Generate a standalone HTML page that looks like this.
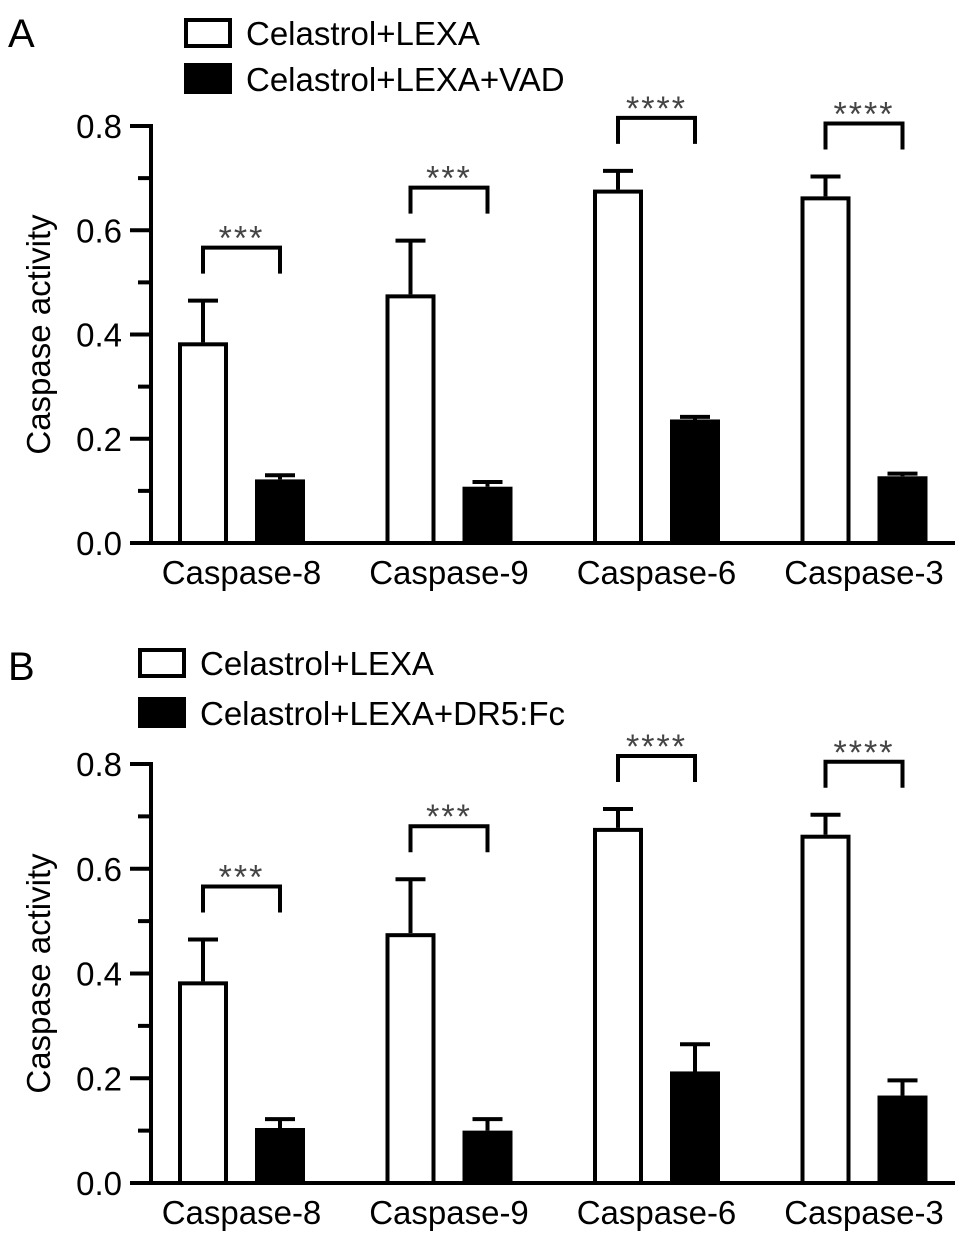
<!DOCTYPE html>
<html><head><meta charset="utf-8"><style>
html,body{margin:0;padding:0;background:#fff;}
svg{display:block;font-family:"Liberation Sans",Arial,sans-serif;}
</style></head><body>
<svg id="chart" width="969" height="1242" viewBox="0 0 969 1242"></svg>
<script>
const categories = ["Caspase-8","Caspase-9","Caspase-6","Caspase-3"];
const aWhite = [0.385,0.477,0.678,0.665];
const aWhiteErr = [0.080,0.103,0.036,0.038];
const aBlack = [0.122,0.108,0.237,0.128];
const aBlackErr = [0.008,0.009,0.005,0.005];
const bWhite = [0.385,0.477,0.678,0.665];
const bWhiteErr = [0.080,0.103,0.036,0.038];
const bBlack = [0.105,0.100,0.213,0.167];
const bBlackErr = [0.017,0.022,0.052,0.029];
const sigLabels = ["***","***","****","****"];
const yTicks = [0,0.2,0.4,0.6,0.8];
const yTickLabels = ["0.0","0.2","0.4","0.6","0.8"];
const minorTicks = [0.1,0.3,0.5,0.7];

const NS="http://www.w3.org/2000/svg";
const svg=document.getElementById('chart');
function mk(tag,attrs,parent,text){const e=document.createElementNS(NS,tag);for(const k in attrs)e.setAttribute(k,attrs[k]);if(text!==undefined)e.textContent=text;(parent||svg).appendChild(e);return e;}

function panel(cfg){
  const g=mk('g',{});
  
  
  const y=v=>cfg.y0-(v/0.8)*(cfg.y0-cfg.y8);
  const xAxisL=151,xAxisR=955;
  const pl=mk('text',{x:8,y:cfg.letterY,'font-size':40},g,cfg.letter);
  
  
  const lw=mk('rect',{x:cfg.legX+2,y:cfg.legY1,width:44,height:26,fill:'#fff',stroke:'#000','stroke-width':4},g);
  
  
  const lt1=mk('text',{x:cfg.legX+62,y:cfg.legY1+25,'font-size':33},g,cfg.leg1);
  
  
  const lb=mk('rect',{x:cfg.legX,y:cfg.legY2,width:48,height:31,fill:'#000'},g);
  
  
  const lt2=mk('text',{x:cfg.legX+62,y:cfg.legY2+28,'font-size':33},g,cfg.leg2);
  
  
  const ya=mk('line',{x1:xAxisL,y1:y(0.8)-2,x2:xAxisL,y2:y(0)+2,stroke:'#000','stroke-width':4},g);
  
  
  yTicks.forEach((t,i)=>{
    const tk=mk('line',{x1:130,y1:y(t),x2:xAxisL,y2:y(t),stroke:'#000','stroke-width':4},g);
    
    
    const tl=mk('text',{x:122,y:y(t)+12,'font-size':33,'text-anchor':'end'},g,yTickLabels[i]);
    
    
  });
  minorTicks.forEach(t=>{
    const tk=mk('line',{x1:138,y1:y(t),x2:xAxisL,y2:y(t),stroke:'#000','stroke-width':4},g);
    
    
  });
  const cy=(cfg.y0+cfg.y8)/2;
  const yt=mk('text',{x:0,y:0,'font-size':33,'text-anchor':'middle',transform:`translate(50,${cy}) rotate(-90)`},g,'Caspase activity');
  
  
  categories.forEach((c,i)=>{
    const gx=178+i*207.5;
    const wx=gx, bx=gx+77, bw=50;
    const wc=wx+bw/2, bc=bx+bw/2;
    const wt=y(cfg.white[i]+cfg.whiteErr[i]);
    const e1=mk('path',{d:`M${wc},${y(cfg.white[i])} V${wt} M${wc-15},${wt} H${wc+15}`,stroke:'#000','stroke-width':4,fill:'none'},g);
    
    
    const r1=mk('rect',{x:wx+2,y:y(cfg.white[i])+2,width:bw-4,height:y(0)-y(cfg.white[i])-2,fill:'#fff',stroke:'#000','stroke-width':4},g);
    
    
    const bt=y(cfg.black[i]+cfg.blackErr[i]);
    const e2=mk('path',{d:`M${bc},${y(cfg.black[i])} V${bt} M${bc-15},${bt} H${bc+15}`,stroke:'#000','stroke-width':4,fill:'none'},g);
    
    
    const r2=mk('rect',{x:bx,y:y(cfg.black[i]),width:bw,height:y(0)-y(cfg.black[i]),fill:'#000'},g);
    
    
    const top=Math.min(wt,bt);
    const legB=top-27, brT=legB-26;
    const br=mk('path',{d:`M${wc},${legB} V${brT} H${bc} V${legB}`,stroke:'#000','stroke-width':4,fill:'none'},g);
    
    
    const st=mk('text',{x:(wc+bc)/2,y:brT+2,'font-size':34,'text-anchor':'middle',fill:'#444','letter-spacing':'2'},g,sigLabels[i]);
    
    
    const cl=mk('text',{x:(wx+bx+bw)/2,y:y(0)+41,'font-size':33,'text-anchor':'middle'},g,c);
    
    
  });
  const xa=mk('line',{x1:xAxisL-2,y1:y(0),x2:xAxisR,y2:y(0),stroke:'#000','stroke-width':4},g);
  
  
}
panel({name:'panel-a',letter:'A',letterY:47,y0:543,y8:126,legX:184,legY1:20,legY2:63,leg1:'Celastrol+LEXA',leg2:'Celastrol+LEXA+VAD',
  white:aWhite,whiteErr:aWhiteErr,black:aBlack,blackErr:aBlackErr});
panel({name:'panel-b',letter:'B',letterY:680,y0:1183,y8:764,legX:138,legY1:650,legY2:697,leg1:'Celastrol+LEXA',leg2:'Celastrol+LEXA+DR5:Fc',
  white:bWhite,whiteErr:bWhiteErr,black:bBlack,blackErr:bBlackErr});
</script>
</body></html>
